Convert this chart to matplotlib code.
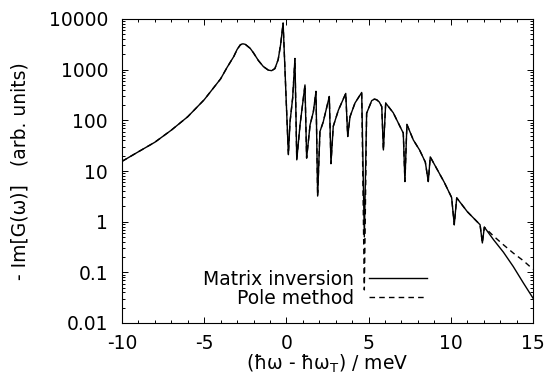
import numpy as np
import matplotlib
matplotlib.use("Agg")
import matplotlib.pyplot as plt
from matplotlib.ticker import FixedLocator, LogLocator, FuncFormatter, MultipleLocator

plt.rcParams['font.family'] = ['DejaVu Sans']
plt.rcParams['font.size'] = 13.5
plt.rcParams['mathtext.fontset'] = 'dejavusans'
plt.rcParams['axes.unicode_minus'] = False

# energy (meV) and -Im[G]
energy = [-10, -9, -8, -7, -6, -5, -4.5, -4, -3.6, -3.2, -3, -2.8, -2.65, -2.5,
          -2.2, -2, -1.7, -1.4, -1.1, -0.9, -0.7, -0.5, -0.35, -0.2,
          0.12, 0.22, 0.38, 0.52, 0.63, 0.83, 1.13, 1.23, 1.44, 1.64, 1.80,
          1.90, 2.04, 2.24, 2.61, 2.71, 2.85, 3.16, 3.61, 3.73, 3.87, 4.17,
          4.58, 4.74, 4.88, 5.19, 5.35, 5.49, 5.65, 5.80, 5.90, 6.04, 6.50,
          7.01, 7.11, 7.21, 7.33, 7.72, 8.10, 8.45, 8.63, 8.75, 9.14, 9.60,
          10.05, 10.21, 10.36, 11.00, 11.78, 11.92, 12.04, 12.6, 13.2, 13.8,
          14.41, 15.0]

matrix_inv = [15.5, 24, 37, 64, 118, 255, 410, 660, 1120, 1820, 2500, 3100, 3240, 3160,
              2630, 2140, 1510, 1150, 980, 955, 1050, 1580, 3160, 8300,
              21, 93, 275, 1660, 16.6, 81, 500, 18, 81, 148, 372,
              3.2, 60, 93, 295, 14, 76, 158, 340, 48, 118, 219,
              355, 0.5, 138, 245, 262, 255, 230, 186, 26, 219, 141,
              65, 56, 6.2, 83, 41, 26, 15, 6.2, 19, 11.2, 6.0,
              3.0, 0.87, 2.95, 1.58, 0.87, 0.38, 0.78, 0.44, 0.25, 0.13,
              0.062, 0.031]

pole_method = [15.5, 24, 37, 64, 118, 255, 410, 660, 1120, 1820, 2500, 3100, 3240, 3160,
               2630, 2140, 1510, 1150, 980, 955, 1050, 1580, 3160, 8300,
               21, 93, 275, 1660, 16.6, 81, 500, 18, 81, 148, 372,
               3.2, 60, 93, 295, 14, 76, 158, 340, 48, 118, 219,
               355, 0.045, 138, 245, 262, 255, 230, 186, 26, 219, 141,
               65, 56, 6.2, 83, 41, 26, 15, 6.2, 19, 11.2, 6.0,
               3.0, 0.87, 2.95, 1.58, 0.87, 0.38, 0.78, 0.52, 0.35, 0.24,
               0.17, 0.115]

ytick_vals = [0.01, 0.1, 1, 10, 100, 1000, 10000]

fig = plt.figure(figsize=(5.5, 3.92), dpi=100)
ax = fig.add_axes([122 / 550, 1 - 323 / 392, (533 - 122) / 550, (323 - 19) / 392])

ax.plot(energy, pole_method, color='black', lw=1.0, ls=(0, (4, 3)), label='Pole method')
ax.plot(energy, matrix_inv, color='black', lw=1.0, label='Matrix inversion')

ax.set_yscale('log')
ax.set_xlim(-10, 15)
ax.set_ylim(0.01, 10000)

ax.xaxis.set_major_locator(MultipleLocator(5))
ax.xaxis.set_minor_locator(MultipleLocator(1))
ax.yaxis.set_major_locator(FixedLocator(ytick_vals))
ax.yaxis.set_minor_locator(LogLocator(base=10, subs=np.arange(2, 10)))
ax.yaxis.set_major_formatter(FuncFormatter(lambda v, p: '%g' % v))

ax.tick_params(which='both', direction='in', top=True, right=True, width=0.7)
ax.tick_params(which='major', length=4)
ax.tick_params(which='minor', length=2)
ax.tick_params(axis='y', which='major', pad=10)
ax.tick_params(axis='x', which='major', pad=8)
for s in ax.spines.values():
    s.set_linewidth(0.8)

ax.set_xlabel('(ħω - ħω$_\\mathregular{T}$) / meV', labelpad=0)
ax.set_ylabel('- Im[G(ω)]   (arb. units)', labelpad=14)

h, l = ax.get_legend_handles_labels()
ax.legend(h[::-1], l[::-1], loc='lower right', frameon=False, markerfirst=False,
          bbox_to_anchor=(427 / 550, 1 - 308 / 392), bbox_transform=fig.transFigure,
          borderpad=0, borderaxespad=0, handlelength=3.1, handletextpad=0.8,
          labelspacing=0.0)

fig.savefig('out.png', dpi=100)
